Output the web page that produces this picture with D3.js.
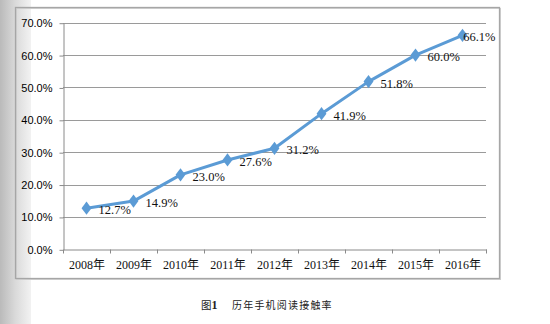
<!DOCTYPE html>
<html><head><meta charset="utf-8">
<script src="https://cdn.jsdelivr.net/npm/d3@7/dist/d3.min.js"></script>
<style>body{margin:0;background:#fff}svg{display:block}</style>
</head><body><svg id="c" width="550" height="324"></svg>
<script>
const categories = ["2008年","2009年","2010年","2011年","2012年","2013年","2014年","2015年","2016年"];
const values = [12.7, 14.9, 23.0, 27.6, 31.2, 41.9, 51.8, 60.0, 66.1];
const yTicks = [0, 10, 20, 30, 40, 50, 60, 70];
const captionChar = "图";
const captionNum = "1";
const captionText = "历年手机阅读接触率";

const svg = d3.select("#c");
const W = 550, H = 324;
const frame = {x: 15.5, y: 7.5, w: 484, h: 271};
const m = {left: 63, right: 486, top: 22.7, bottom: 249.3};

// left gray strip
const defs = svg.append("defs");
const g1 = defs.append("linearGradient").attr("id","strip").attr("x1","0").attr("x2","1");
g1.append("stop").attr("offset","0").attr("stop-color","#bababa");
g1.append("stop").attr("offset","0.5").attr("stop-color","#dadada");
g1.append("stop").attr("offset","1").attr("stop-color","#f2f2f2");
svg.append("rect").attr("x",0).attr("y",0).attr("width",31).attr("height",H).attr("fill","url(#strip)");

// frame
svg.append("rect").attr("x",frame.x+1).attr("y",frame.y+1).attr("width",frame.w).attr("height",frame.h)
  .attr("fill","none").attr("stroke","#d0d0d0").attr("stroke-width",1);
svg.append("rect").attr("x",frame.x).attr("y",frame.y).attr("width",frame.w).attr("height",frame.h)
  .attr("fill","none").attr("stroke","#a6a6a6").attr("stroke-width",1.3);

const x = d3.scaleBand().domain(categories).range([m.left, m.right]);
const y = d3.scaleLinear().domain([0, 70]).range([m.bottom, m.top]);

// gridlines
svg.append("g").selectAll("line").data(yTicks.filter(d=>d>0)).join("line")
  .attr("x1", m.left).attr("x2", m.right)
  .attr("y1", d=>Math.round(y(d))+0.5).attr("y2", d=>Math.round(y(d))+0.5)
  .attr("stroke","#9a9a9a").attr("stroke-width",1);

// y axis
const yAxis = svg.append("g").attr("transform",`translate(${m.left+0.5},0.5)`)
  .call(d3.axisLeft(y).tickValues(yTicks).tickSize(4).tickSizeOuter(0).tickPadding(7)
    .tickFormat(d=>d.toFixed(1)+"%"));
yAxis.select(".domain").attr("stroke","#8a8a8a");
yAxis.selectAll(".tick line").attr("stroke","#8a8a8a");
yAxis.selectAll("text").attr("font-family","'Liberation Sans', Arial, sans-serif")
  .attr("font-size","11px").attr("fill","#000");

// x axis
const xAxis = svg.append("g").attr("transform",`translate(0.5,${Math.round(m.bottom)+0.5})`)
  .call(d3.axisBottom(x).tickSize(0).tickPadding(11));
xAxis.select(".domain").attr("stroke","#8a8a8a");
xAxis.selectAll(".tick line").remove();
const bounds = d3.range(categories.length+1).map(i => m.left + i*x.step());
xAxis.selectAll(".btick").data(bounds).join("line").attr("class","btick")
  .attr("x1",d=>Math.round(d)).attr("x2",d=>Math.round(d)).attr("y1",0).attr("y2",4)
  .attr("stroke","#8a8a8a");
xAxis.selectAll("text").attr("font-family","'Liberation Serif', 'Times New Roman', 'Noto Sans CJK SC', serif")
  .attr("font-size","12px").attr("fill","#111");

// line
const cx = (d,i) => x(categories[i]) + x.bandwidth()/2;
const line = d3.line().x((d,i)=>cx(d,i)).y(d=>y(d));
svg.append("path").datum(values).attr("d", line).attr("fill","none")
  .attr("stroke","#5b9bd5").attr("stroke-width",3).attr("stroke-linejoin","round");

// markers
const diamond = d3.symbol().type(d3.symbolDiamond).size(50);
svg.append("g").selectAll("path").data(values).join("path")
  .attr("d", diamond)
  .attr("transform",(d,i)=>`translate(${cx(d,i)},${y(d)}) scale(1.3,1)`)
  .attr("fill","#5b9bd5");

// labels
const lbl = svg.append("g").selectAll("text").data(values).join("text")
  .attr("font-family","'Liberation Serif', 'Times New Roman', serif")
  .attr("font-size","12.5px").attr("fill","#111")
  .text(d=>d.toFixed(1)+"%")
  .attr("y", d=>y(d)+6);
lbl.each(function(d,i){
  const w = this.getComputedTextLength();
  const px = cx(d,i) + 12;
  const maxX = frame.x + frame.w - 4 - w;
  d3.select(this).attr("x", Math.min(px, maxX));
});

// caption
const cap = svg.append("text").attr("x", 201).attr("y", 309)
  .attr("font-family","'Noto Sans CJK SC', sans-serif").attr("font-size","10.5px").attr("fill","#222");
cap.append("tspan").text(captionChar);
cap.append("tspan").text(captionNum).attr("font-family","'Liberation Serif', serif").attr("font-weight","bold").attr("font-size","12px");
svg.append("text").attr("x", 232).attr("y", 309)
  .attr("font-family","'Noto Sans CJK SC', sans-serif").attr("font-size","10px")
  .attr("letter-spacing","1.2px").attr("fill","#222").text(captionText);
</script></body></html>
